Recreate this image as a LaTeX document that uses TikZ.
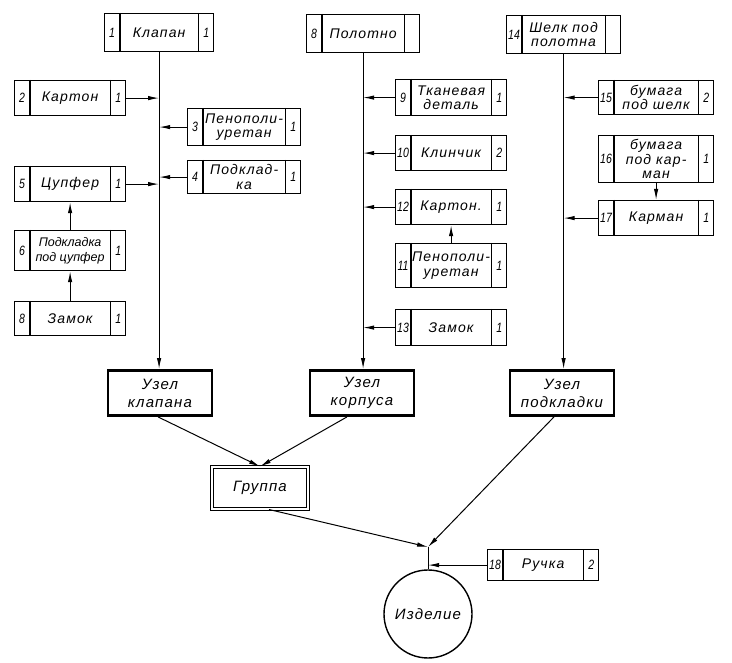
\documentclass[tikz,border=0pt]{standalone}
\usepackage{fontspec}
\setmainfont{Liberation Sans}
\newfontfamily\draftfont{Liberation Sans}[LetterSpace=8]
\newfontfamily\numfont{Liberation Sans}[FakeStretch=0.78]
\newcommand{\narrowtext}{\normalfont\itshape\fontsize{12.5}{13.5}\selectfont}
\usetikzlibrary{arrows.meta}

\tikzset{
  box/.style={draw, line width=1.2pt, inner sep=0pt},
  cell/.style={line width=1.1pt},
  parttext/.style={align=center, inner sep=0pt, font=\draftfont\itshape\fontsize{14}{14.5}\selectfont},
  numtext/.style={inner sep=0pt, font=\numfont\itshape\fontsize{13.5}{13.5}\selectfont},
  unitbox/.style={draw, line width=2.8pt, minimum width=104pt, minimum height=45pt, align=center, font=\draftfont\itshape\fontsize{15}{18}\selectfont},
  groupbox/.style={draw, double, double distance=2.2pt, line width=1pt, minimum width=96pt, minimum height=42pt, font=\draftfont\itshape\fontsize{15}{18}\selectfont},
  arr/.style={line width=1pt, -{Latex[length=11pt,width=4.4pt]}},
  trunk/.style={line width=1pt}
}

\newcommand{\partbox}[8]{%
  \node[box, anchor=north west, minimum width=#4pt, minimum height=#5pt] (#1) at (#2,#3) {};
  \draw[cell] ([xshift=16pt]#1.north west) -- ([xshift=16pt]#1.south west);
  \draw[cell] ([xshift=-16pt]#1.north east) -- ([xshift=-16pt]#1.south east);
  \node[numtext] (#1-n) at ([xshift=8pt]#1.west) {#6};
  \node[parttext] (#1-t) at (#1.center) {#7};
  \node[numtext] (#1-q) at ([xshift=-8pt]#1.east) {#8};
}

\begin{document}
\begin{tikzpicture}[x=1pt, y=-1pt]
\useasboundingbox (0,0) rectangle (732,663);

\partbox{k1}{104}{13}{109}{38}{1}{Клапан}{1}
\partbox{k2}{14}{80}{111}{35}{2}{Картон}{1}
\partbox{k3}{187}{108}{113}{37}{3}{Пенополи-\\уретан}{1}
\partbox{k4}{187}{160}{113}{33}{4}{Подклад-\\ка}{1}
\partbox{k5}{14}{166}{111}{35}{5}{Цупфер}{1}
\partbox{k6}{14}{230}{111}{40}{6}{\narrowtext Подкладка\\\narrowtext под цупфер}{1}
\partbox{k8}{14}{301}{111}{34}{8}{Замок}{1}

\partbox{p8}{306}{14}{113}{38}{8}{Полотно}{}
\partbox{p9}{395}{79}{111}{36}{9}{Тканевая\\деталь}{1}
\partbox{p10}{395}{135}{111}{35}{10}{Клинчик}{2}
\partbox{p12}{395}{189}{111}{35}{12}{Картон.}{1}
\partbox{p11}{395}{243}{111}{44}{11}{Пенополи-\\уретан}{1}
\partbox{p13}{395}{309}{111}{36}{13}{Замок}{1}

\partbox{s14}{506}{15}{114}{38}{14}{Шелк под\\полотна}{}
\partbox{s15}{598}{80}{115}{34}{15}{бумага\\под шелк}{2}
\partbox{s16}{598}{135}{115}{47}{16}{бумага\\под кар-\\ман}{1}
\partbox{s17}{598}{200}{115}{35}{17}{Карман}{1}

\partbox{r18}{487}{549}{111}{31}{18}{Ручка}{2}

\node[unitbox] (u1) at (160,393) {Узел\\клапана};
\node[unitbox] (u2) at (362,393) {Узел\\корпуса};
\node[unitbox] (u3) at (562,393) {Узел\\подкладки};
\node[groupbox] (grp) at (260,488) {Группа};
\node[draw, circle, line width=1.4pt, minimum size=88pt, font=\draftfont\itshape\fontsize{15}{18}\selectfont] (izd) at (428,614) {Изделие};
\coordinate (j) at (428,547);

\draw[arr] (k1.south) -- (k1.south |- u1.north);
\draw[arr] (k2.east) -- (k2.east -| k1.south);
\draw[arr] (k3.west) -- (k3.west -| k1.south);
\draw[arr] (k4.west) -- (k4.west -| k1.south);
\draw[arr] (k5.east) -- (k5.east -| k1.south);
\draw[arr] (k6.north) -- (k5.south);
\draw[arr] (k8.north) -- (k6.south);

\draw[arr] (p8.south) -- (p8.south |- u2.north);
\draw[arr] (p9.west) -- (p9.west -| p8.south);
\draw[arr] (p10.west) -- (p10.west -| p8.south);
\draw[arr] (p12.west) -- (p12.west -| p8.south);
\draw[arr] (p11.north) -- (p12.south);
\draw[arr] (p13.west) -- (p13.west -| p8.south);

\draw[arr] (s14.south) -- (s14.south |- u3.north);
\draw[arr] (s15.west) -- (s15.west -| s14.south);
\draw[arr] (s16.south) -- (s17.north);
\draw[arr] (s17.west) -- (s17.west -| s14.south);

\draw[arr] ([xshift=-2pt]u1.south) -- (grp.north);
\draw[arr] ([xshift=-15pt]u2.south) -- (grp.north);
\draw[arr] ([xshift=9pt]grp.south) -- (j);
\draw[arr] ([xshift=-8pt]u3.south) -- (j);
\draw[trunk] (j) -- (izd.north);
\draw[arr] (r18.west) -- (r18.west -| j);
\end{tikzpicture}
\end{document}
